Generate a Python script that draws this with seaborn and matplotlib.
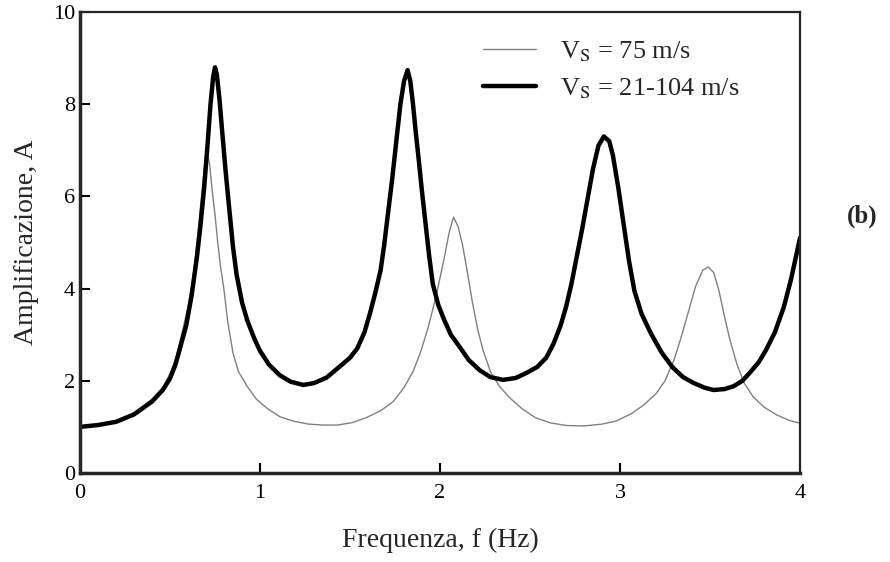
import numpy as np
import pandas as pd
import seaborn as sns
import matplotlib
matplotlib.use("Agg")
import matplotlib.pyplot as plt

# values
# Vs = 75 m/s (uniform profile, thin grey line)
f_75 = [0.0, 0.1, 0.2, 0.3, 0.4, 0.46, 0.5, 0.53, 0.555, 0.6, 0.63, 0.65, 0.67,
        0.69, 0.705, 0.72, 0.735, 0.75, 0.765, 0.78, 0.8, 0.82, 0.85, 0.88,
        0.93, 0.98, 1.04, 1.11, 1.19, 1.27, 1.35, 1.43, 1.51, 1.59, 1.67,
        1.74, 1.8, 1.85, 1.89, 1.93, 1.96, 1.99, 2.02, 2.05, 2.075, 2.1,
        2.125, 2.15, 2.18, 2.21, 2.24, 2.28, 2.33, 2.39, 2.46, 2.53, 2.61,
        2.7, 2.8, 2.9, 2.98, 3.06, 3.13, 3.2, 3.25, 3.3, 3.34, 3.38, 3.42,
        3.46, 3.49, 3.52, 3.55, 3.58, 3.61, 3.65, 3.69, 3.74, 3.8, 3.87,
        3.94, 4.0]
A_75 = [1.0, 1.04, 1.12, 1.3, 1.6, 1.85, 2.15, 2.45, 2.85, 3.6, 4.3, 5.0, 5.8,
        6.6, 7.0, 6.7, 6.1, 5.6, 5.0, 4.5, 3.97, 3.3, 2.6, 2.2,
        1.87, 1.6, 1.4, 1.22, 1.12, 1.06, 1.04, 1.04, 1.09, 1.2, 1.35,
        1.55, 1.85, 2.2, 2.6, 3.1, 3.55, 4.05, 4.6, 5.2, 5.55, 5.35,
        4.95, 4.4, 3.7, 3.1, 2.65, 2.2, 1.88, 1.62, 1.38, 1.2, 1.09,
        1.03, 1.02, 1.06, 1.13, 1.28, 1.47, 1.72, 2.0, 2.45, 2.95, 3.5, 4.05,
        4.4, 4.47, 4.35, 3.95, 3.4, 2.9, 2.35, 1.95, 1.65, 1.43, 1.26,
        1.14, 1.08]

# Vs = 21-104 m/s (variable profile, thick black line)
f_var = [0.0, 0.1, 0.2, 0.3, 0.4, 0.46, 0.5, 0.53, 0.555, 0.59, 0.62, 0.65, 0.67,
         0.69, 0.71, 0.725, 0.74, 0.75, 0.76, 0.775, 0.79, 0.81, 0.83, 0.85,
         0.87, 0.9, 0.93, 0.97, 1.0, 1.05, 1.11, 1.17, 1.24, 1.3, 1.37, 1.44,
         1.5, 1.54, 1.58, 1.61, 1.64, 1.67, 1.69, 1.71, 1.735, 1.76, 1.78,
         1.8, 1.82, 1.835, 1.85, 1.865, 1.88, 1.9, 1.92, 1.94, 1.96, 1.99,
         2.02, 2.06, 2.11, 2.16, 2.22, 2.28, 2.35, 2.42, 2.48, 2.54, 2.59,
         2.63, 2.67, 2.7, 2.73, 2.76, 2.79, 2.82, 2.85, 2.88, 2.91, 2.94,
         2.96, 2.99, 3.02, 3.05, 3.08, 3.12, 3.17, 3.23, 3.29, 3.35, 3.41,
         3.47, 3.52, 3.58, 3.63, 3.68, 3.72, 3.77, 3.81, 3.86, 3.91, 3.95, 4.0]
A_var = [1.0, 1.04, 1.11, 1.27, 1.55, 1.8, 2.05, 2.35, 2.7, 3.2, 3.85, 4.7, 5.4,
         6.2, 7.2, 8.0, 8.6, 8.8, 8.65, 8.1, 7.4, 6.5, 5.7, 4.9,
         4.3, 3.7, 3.3, 2.9, 2.65, 2.35, 2.12, 1.98, 1.91, 1.95, 2.07, 2.3,
         2.5, 2.7, 3.05, 3.45, 3.9, 4.4, 4.95, 5.6, 6.4, 7.3, 8.0,
         8.5, 8.74, 8.5, 8.0, 7.4, 6.86, 6.1, 5.4, 4.7, 4.1, 3.65,
         3.35, 3.0, 2.73, 2.45, 2.23, 2.08, 2.02, 2.06, 2.17, 2.3, 2.5,
         2.8, 3.2, 3.6, 4.1, 4.7, 5.3, 5.95, 6.6, 7.1, 7.3, 7.2,
         6.9, 6.2, 5.4, 4.6, 3.95, 3.45, 3.04, 2.62, 2.3, 2.08, 1.95,
         1.85, 1.8, 1.82, 1.88, 2.0, 2.17, 2.4, 2.66, 3.05, 3.6, 4.2, 5.1]

x_ticks = [0, 1, 2, 3, 4]
y_ticks = [0, 2, 4, 6, 8, 10]

sns.set_style("ticks")
plt.rcParams['font.family'] = ['Liberation Serif', 'DejaVu Serif']
plt.rcParams['mathtext.fontset'] = 'stix'

fig = plt.figure(figsize=(8.9, 5.62), dpi=100)
ax = fig.add_axes([0.0899, 0.1584, 0.809, 0.8202])

sns.lineplot(x=f_75, y=A_75, ax=ax, sort=False, estimator=None,
             color='#808080', linewidth=1.0, label=r'V$_\mathrm{S}$ = 75 m/s')
sns.lineplot(x=f_var, y=A_var, ax=ax, sort=False, estimator=None,
             color='black', linewidth=3.2, label=r'V$_\mathrm{S}$ = 21-104 m/s')

ax.set_xlim(0, 4)
ax.set_ylim(0, 10)
ax.set_xticks(x_ticks)
ax.set_yticks(y_ticks)
ax.tick_params(direction='in', length=7, width=1.5, labelsize=16, colors='black')
ax.tick_params(axis='x', pad=8)
for side in ['left', 'bottom']:
    ax.spines[side].set_linewidth(2.5)
for side in ['top', 'right']:
    ax.spines[side].set_visible(True)
    ax.spines[side].set_linewidth(1.6)

ax.set_xlabel('Frequenza, f (Hz)', fontsize=20, labelpad=18)
ax.set_ylabel('Amplificazione, A', fontsize=20, labelpad=10)

leg = ax.legend(loc='upper left', bbox_to_anchor=(0.527, 0.993), frameon=False,
                fontsize=19, handlelength=2.0, labelspacing=0.48, handletextpad=0.9)

fig.text(0.9685, 0.6157, '(b)', fontsize=18, fontweight='bold', ha='center', va='center')

fig.savefig('out.png', dpi=100)
